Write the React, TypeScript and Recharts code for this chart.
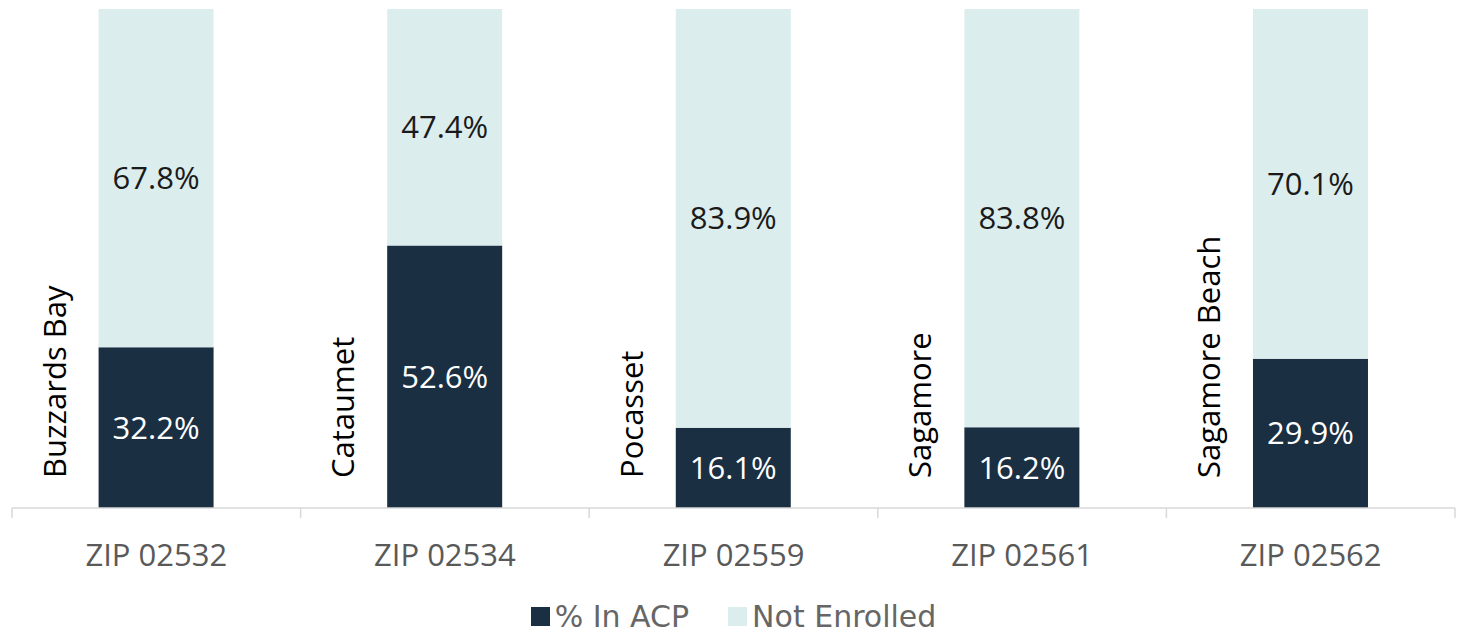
import { Bar, BarChart, LabelList, Legend, XAxis, YAxis } from "recharts";

const zips = ["ZIP 02532", "ZIP 02534", "ZIP 02559", "ZIP 02561", "ZIP 02562"];
const places = ["Buzzards Bay", "Cataumet", "Pocasset", "Sagamore", "Sagamore Beach"];
const inAcp = [32.2, 52.6, 16.1, 16.2, 29.9];
const notEnrolled = [67.8, 47.4, 83.9, 83.8, 70.1];

const data = zips.map((zip, i) => ({
  zip,
  place: places[i],
  inAcp: inAcp[i],
  notEnrolled: notEnrolled[i],
}));

const WIDTH = 1468;
const HEIGHT = 632;
const MARGIN = { top: 9, right: 13, bottom: 0, left: 12 };
const BAND = (WIDTH - MARGIN.left - MARGIN.right) / zips.length;
const DARK = "#1a2f42";
const LIGHT = "#dcedee";
const FONT = "'Open Sans', 'Noto Sans', sans-serif";
const FONT_SIZE = 31;

function ZipTick(props: any) {
  const { x, y, payload, index } = props;
  const half = BAND / 2;
  return (
    <g>
      <line x1={x - half} x2={x - half} y1={y} y2={y + 10} stroke="#d9d9d9" strokeWidth={1.5} />
      {index === zips.length - 1 && (
        <line x1={x + half} x2={x + half} y1={y} y2={y + 10} stroke="#d9d9d9" strokeWidth={1.5} />
      )}
      <text
        x={x}
        y={y + 58}
        textAnchor="middle"
        fill="#595959"
        fontFamily={FONT}
        fontSize={FONT_SIZE}
      >
        {payload.value}
      </text>
    </g>
  );
}

function PlaceLabel(props: any) {
  const { x, y, height, value } = props;
  const tx = x - 45;
  const ty = y + height - 30;
  return (
    <text
      x={tx}
      y={ty}
      transform={`rotate(-90 ${tx} ${ty})`}
      textAnchor="start"
      dominantBaseline="central"
      fill="#000"
      fontFamily={FONT}
      fontSize={FONT_SIZE}
    >
      {value}
    </text>
  );
}

function ChartLegend() {
  const items = [
    { label: "% In ACP", color: DARK },
    { label: "Not Enrolled", color: LIGHT },
  ];
  return (
    <div
      style={{
        height: 64,
        boxSizing: "border-box",
        paddingTop: 33,
        display: "flex",
        justifyContent: "center",
        alignItems: "center",
        gap: 39,
        fontFamily: "'DejaVu Sans', sans-serif",
        fontSize: 30,
        lineHeight: "31px",
        color: "#666666",
      }}
    >
      {items.map((item) => (
        <div key={item.label} style={{ display: "flex", alignItems: "center", gap: 5, height: 31 }}>
          <span style={{ width: 19, height: 19, background: item.color, display: "inline-block" }} />
          <span>{item.label}</span>
        </div>
      ))}
    </div>
  );
}

export default function App() {
  return (
    <div style={{ position: "absolute", left: 0, top: 0, background: "#fff" }}>
      <BarChart
        width={WIDTH}
        height={HEIGHT}
        data={data}
        margin={MARGIN}
        barCategoryGap="30%"
      >
        <XAxis
          dataKey="zip"
          axisLine={{ stroke: "#d9d9d9", strokeWidth: 1.5 }}
          tickLine={false}
          tickSize={0}
          tickMargin={0}
          height={60}
          tick={<ZipTick />}
          interval={0}
        />
        <YAxis hide domain={[0, 100]} />
        <Legend verticalAlign="bottom" content={() => <ChartLegend />} />
        <Bar dataKey="inAcp" stackId="a" fill={DARK} isAnimationActive={false}>
          <LabelList
            dataKey="inAcp"
            position="center"
            formatter={(v: any) => `${Number(v).toFixed(1)}%`}
            fill="#ffffff"
            fontFamily={FONT}
            fontSize={FONT_SIZE}
          />
          <LabelList dataKey="place" content={<PlaceLabel />} />
        </Bar>
        <Bar dataKey="notEnrolled" stackId="a" fill={LIGHT} isAnimationActive={false}>
          <LabelList
            dataKey="notEnrolled"
            position="center"
            formatter={(v: any) => `${Number(v).toFixed(1)}%`}
            fill="#1a1a1a"
            fontFamily={FONT}
            fontSize={FONT_SIZE}
          />
        </Bar>
      </BarChart>
    </div>
  );
}
